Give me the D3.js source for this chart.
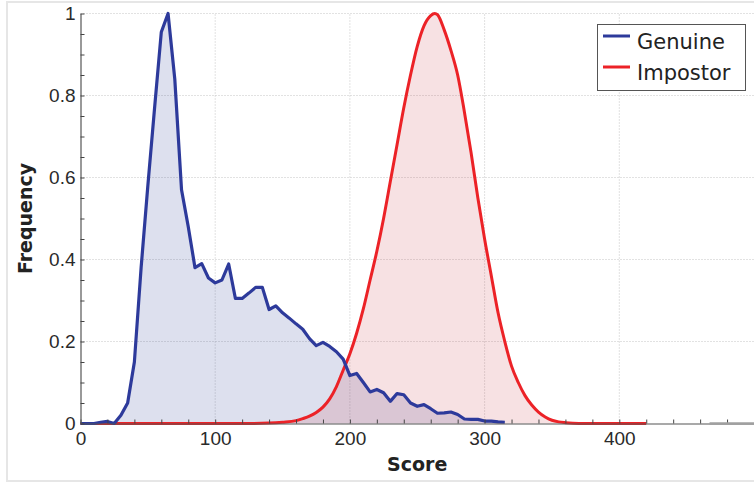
<html>
<head>
    <script src="https://d3js.org/d3.v7.min.js" charset="utf-8"></script>
    <style>
        body { margin: 0; background: #fff; }
    </style>
</head>
<body>
    <script type="text/javascript">
        var width = 754;
        var height = 485;

        var margin = {
            top: 13.5,
            right: 0,
            bottom: 61,
            left: 80.5
        };

        // Genuine score histogram (normalised)
        const genuineScore = [0, 5, 10, 15, 20, 25, 30, 35, 40, 45, 50, 55, 60, 65, 70, 75, 80, 85, 90, 95,
            100, 105, 110, 115, 120, 125, 130, 135, 140, 145, 150, 155, 160, 165, 170, 175, 180, 185, 190, 195,
            200, 205, 210, 215, 220, 225, 230, 235, 240, 245, 250, 255, 260, 265, 270, 275, 280, 285, 290, 295,
            300, 305, 310, 315];
        const genuineFreq = [0, 0, 0, 0.003, 0.005, 0, 0.02, 0.05, 0.15, 0.38, 0.58, 0.77, 0.955, 1.0, 0.84, 0.57, 0.48, 0.38, 0.39, 0.355,
            0.343, 0.35, 0.389, 0.305, 0.305, 0.318, 0.332, 0.332, 0.278, 0.287, 0.27, 0.257, 0.243, 0.23, 0.207, 0.19, 0.198, 0.188, 0.175, 0.157,
            0.117, 0.122, 0.1, 0.077, 0.083, 0.075, 0.054, 0.073, 0.07, 0.05, 0.042, 0.046, 0.036, 0.025, 0.026, 0.028, 0.022, 0.011, 0.01, 0.01,
            0.006, 0.006, 0.004, 0.003];

        // Impostor score distribution (normalised)
        const impostorScore = [0, 120, 140, 150, 160, 165, 170, 175, 180, 185, 190, 195, 200, 205, 210, 215, 220, 225, 230, 235,
            240, 245, 250, 255, 260, 263, 265, 270, 275, 280, 285, 290, 295, 300, 305, 310, 315, 320, 325, 330,
            335, 340, 345, 350, 355, 360, 370, 420];
        const impostorFreq = [0, 0, 0.001, 0.003, 0.007, 0.012, 0.018, 0.027, 0.04, 0.06, 0.09, 0.13, 0.17, 0.22, 0.28, 0.35, 0.42, 0.5, 0.59, 0.68,
            0.77, 0.85, 0.92, 0.97, 0.995, 1.0, 0.997, 0.96, 0.91, 0.85, 0.76, 0.66, 0.55, 0.45, 0.36, 0.27, 0.2, 0.14, 0.1, 0.068,
            0.045, 0.028, 0.016, 0.008, 0.004, 0.002, 0, 0];

        const xTickLabels = [0, 100, 200, 300, 400];
        const yTickLabels = [0, 0.2, 0.4, 0.6, 0.8, 1];
        const xMinorTicks = [0, 20, 40, 60, 80, 100, 120, 140, 160, 180, 200, 220, 240, 260, 280, 300, 320, 340, 360, 380, 400, 420, 440, 460, 480];
        const yMinorTicks = [0, 0.05, 0.1, 0.15, 0.2, 0.25, 0.3, 0.35, 0.4, 0.45, 0.5, 0.55, 0.6, 0.65, 0.7, 0.75, 0.8, 0.85, 0.9, 0.95, 1];

        const seriesNames = ["Genuine", "Impostor"];
        const seriesColors = ["#2d3a9b", "#ec2227"];
        const seriesFills = ["rgba(45,60,150,0.16)", "rgba(200,55,65,0.15)"];

        const svg = d3.select("body").append("svg")
            .attr("width", width)
            .attr("height", height);

        // light frame round the figure
        svg.append("rect")
            .attr("x", 7).attr("y", 2)
            .attr("width", 800).attr("height", 479)
            .attr("fill", "none")
            .attr("stroke", "#e6e6e6")
            .attr("stroke-width", 2);

        const g = svg.append('g')
            .style('font-family', '"DejaVu Sans", sans-serif');

        const xScale = d3.scaleLinear()
            .domain([0, 500])
            .range([margin.left, width - margin.right]);

        const yScale = d3.scaleLinear()
            .domain([0, 1])
            .range([height - margin.bottom - 0.5, margin.top]);

        // dotted grid
        g.append("g")
            .selectAll("line")
            .data(xTickLabels.slice(1))
            .join("line")
                .attr("x1", d => xScale(d)).attr("x2", d => xScale(d))
                .attr("y1", yScale(0)).attr("y2", yScale(1))
                .attr("stroke", "#c4c4c4")
                .attr("stroke-dasharray", "1,2");

        g.append("g")
            .selectAll("line")
            .data(yTickLabels.slice(1))
            .join("line")
                .attr("x1", xScale(0)).attr("x2", width)
                .attr("y1", d => yScale(d)).attr("y2", d => yScale(d))
                .attr("stroke", "#c4c4c4")
                .attr("stroke-dasharray", "1,2");

        const genuine = genuineScore.map((s, i) => ({ x: s, y: genuineFreq[i] }));
        const impostor = impostorScore.map((s, i) => ({ x: s, y: impostorFreq[i] }));

        const areaLinear = d3.area().x(d => xScale(d.x)).y0(yScale(0)).y1(d => yScale(d.y));
        const lineLinear = d3.line().x(d => xScale(d.x)).y(d => yScale(d.y));
        const areaSmooth = d3.area().curve(d3.curveMonotoneX).x(d => xScale(d.x)).y0(yScale(0)).y1(d => yScale(d.y));
        const lineSmooth = d3.line().curve(d3.curveMonotoneX).x(d => xScale(d.x)).y(d => yScale(d.y));

        g.append("path").attr("d", areaLinear(genuine)).attr("fill", seriesFills[0]);
        g.append("path").attr("d", areaSmooth(impostor)).attr("fill", seriesFills[1]);

        g.append("path").attr("d", lineSmooth(impostor))
            .attr("fill", "none").attr("stroke", seriesColors[1]).attr("stroke-width", 3)
            .attr("stroke-linejoin", "round");
        g.append("path").attr("d", lineLinear(genuine))
            .attr("fill", "none").attr("stroke", seriesColors[0]).attr("stroke-width", 3.2)
            .attr("stroke-linejoin", "round");

        // axes, ticks pointing inward
        const xAxis = g.append("g")
            .attr("transform", `translate(0,${yScale(0)})`)
            .call(d3.axisBottom(xScale)
                .tickValues(xMinorTicks)
                .tickSizeInner(-4)
                .tickSizeOuter(0)
                .tickPadding(8)
                .tickFormat(d => xTickLabels.includes(d) ? d : ""));

        const yAxis = g.append("g")
            .attr("transform", `translate(${xScale(0)},0)`)
            .call(d3.axisLeft(yScale)
                .tickValues(yMinorTicks)
                .tickSizeInner(-4)
                .tickSizeOuter(0)
                .tickPadding(5)
                .tickFormat(d => yTickLabels.some(v => Math.abs(v - d) < 1e-9) ? d3.format("~g")(d) : ""));

        [xAxis, yAxis].forEach(a => {
            a.select(".domain").attr("stroke", "#555").attr("stroke-width", 1.2);
            a.selectAll(".tick line").attr("stroke", "#444");
            a.selectAll(".tick text").attr("fill", "#2a2a2a").style("font-size", "19px");
        });

        // grey stub at far right of the x axis
        g.append("line")
            .attr("x1", xScale(467)).attr("x2", width)
            .attr("y1", yScale(0)).attr("y2", yScale(0))
            .attr("stroke", "#a0a0a0").attr("stroke-width", 2.5);

        // axis titles
        g.append("text")
            .attr("x", (xScale(0) + width) / 2)
            .attr("y", 471)
            .attr("text-anchor", "middle")
            .style("font-size", "19px")
            .style("font-weight", "bold")
            .attr("fill", "#222")
            .text("Score");

        g.append("text")
            .attr("transform", `translate(32, ${(yScale(0) + yScale(1)) / 2}) rotate(-90)`)
            .attr("text-anchor", "middle")
            .style("font-size", "19px")
            .style("font-weight", "bold")
            .attr("fill", "#222")
            .text("Frequency");

        // legend
        const legend = g.append("g");
        legend.append("rect")
            .attr("x", 597.5).attr("y", 24.5)
            .attr("width", 148).attr("height", 66)
            .attr("fill", "#fff")
            .attr("stroke", "#555");

        const legendRows = legend.selectAll("g.row")
            .data(seriesNames)
            .join("g")
                .attr("class", "row")
                .attr("transform", (d, i) => `translate(0,${i * 31})`);

        legendRows.append("line")
            .attr("x1", 603).attr("x2", 630)
            .attr("y1", 36).attr("y2", 36)
            .attr("stroke", (d, i) => seriesColors[i])
            .attr("stroke-width", 3);

        legendRows.append("text")
            .attr("x", 637).attr("y", 49)
            .style("font-size", "21px")
            .attr("fill", "#222")
            .text(d => d);
    </script>
</body>

</html>
